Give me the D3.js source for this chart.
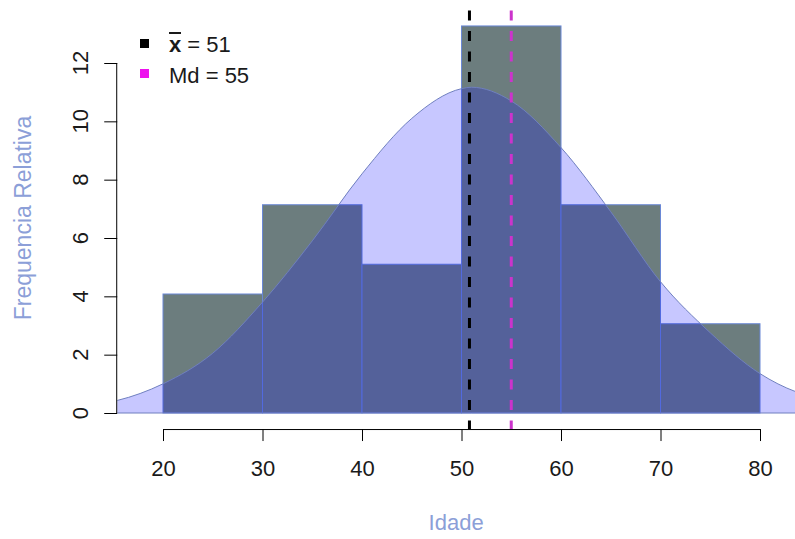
<!DOCTYPE html>
<html>
<head>
<meta charset="utf-8">
<script src="https://cdn.jsdelivr.net/npm/d3@7"></script>
<style>
  body { margin: 0; background: #fff; }
  svg { display: block; font-family: "Liberation Sans", Arial, sans-serif; }
</style>
</head>
<body>
<div id="chart"></div>
<script>
// histogram data (relative frequency per class)
const binEdges = [20, 30, 40, 50, 60, 70, 80];
const relFreq = [4.08, 7.14, 5.10, 13.27, 7.14, 3.06];

// normal curve, points
const curveX = [14, 15.4, 20, 25, 30, 35, 40, 45, 50, 51, 55, 60, 65, 70, 75, 80, 83.6, 86];
const curveY = [0.33, 0.43, 1.0, 2.05, 3.8, 5.9, 8.2, 10.1, 11.12, 11.17, 10.7, 9.1, 6.9, 4.5, 2.75, 1.35, 0.73, 0.5];

const meanValue = 50.8;
const medianValue = 55;
const legendLabels = ["= 51", "Md = 55"];

const xTicks = [20, 30, 40, 50, 60, 70, 80];
const yTicks = [0, 2, 4, 6, 8, 10, 12];

const width = 795;
const height = 539;

const barFill = "#6c7d7e";
const curveFill = "rgba(0, 0, 255, 0.22)";
const labelColor = "#8c9fd8";

const svg = d3.select("#chart")
    .append("svg")
    .attr("width", width)
    .attr("height", height);

const xScale = d3.scaleLinear()
    .domain([20, 80])
    .range([163, 760]);

const yScale = d3.scaleLinear()
    .domain([0, 12])
    .range([413, 63]);

// plot region (R style, a bit wider than the data)
const plotLeft = xScale(15.4);
const plotTop = yScale(13.8);
const plotBottom = yScale(-0.55);

svg.append("defs")
    .append("clipPath")
    .attr("id", "plot-clip")
    .append("rect")
    .attr("x", plotLeft)
    .attr("y", plotTop)
    .attr("width", width - plotLeft)
    .attr("height", plotBottom - plotTop);

const plot = svg.append("g").attr("clip-path", "url(#plot-clip)");

// bars
const bins = relFreq.map((v, i) => ({ x0: binEdges[i], x1: binEdges[i + 1], v: v }));

plot.selectAll("rect.bar")
    .data(bins)
    .join("rect")
    .attr("class", "bar")
    .attr("x", d => xScale(d.x0))
    .attr("y", d => yScale(d.v))
    .attr("width", d => xScale(d.x1) - xScale(d.x0))
    .attr("height", d => yScale(0) - yScale(d.v))
    .attr("fill", barFill)
    .attr("stroke", "#6a88d6")
    .attr("stroke-width", 1);

// density curve on top, transparent blue
const curvePoints = curveX.map((x, i) => ({ x: x, y: curveY[i] }));

const areaGenerator = d3.area()
    .x(d => xScale(d.x))
    .y0(yScale(0))
    .y1(d => yScale(d.y))
    .curve(d3.curveMonotoneX);

plot.append("path")
    .attr("d", areaGenerator(curvePoints))
    .attr("fill", curveFill)
    .attr("stroke", "#6f7fbf")
    .attr("stroke-width", 1);

// mean and median lines
const vLines = [
    { v: meanValue, color: "#000000" },
    { v: medianValue, color: "#cc33cc" }
];

svg.selectAll("line.vline")
    .data(vLines)
    .join("line")
    .attr("class", "vline")
    .attr("x1", d => xScale(d.v))
    .attr("x2", d => xScale(d.v))
    .attr("y1", plotTop)
    .attr("y2", plotBottom)
    .attr("stroke", d => d.color)
    .attr("stroke-width", 3)
    .attr("stroke-dasharray", "10 10.5");

// axes
const bottomAxis = d3.axisBottom(xScale)
    .tickValues(xTicks)
    .tickSize(12)
    .tickPadding(19);

const xAxis = svg.append("g")
    .attr("transform", `translate(0, ${plotBottom})`)
    .call(bottomAxis);

xAxis.select(".domain").attr("d", `M${xScale(20)},0.5H${xScale(80)}`);
xAxis.selectAll("text")
    .attr("font-size", 22)
    .attr("font-family", "Liberation Sans, Arial, sans-serif")
    .attr("fill", "#1a1a1a");

const leftAxis = d3.axisLeft(yScale)
    .tickValues(yTicks)
    .tickSize(13)
    .tickFormat("");

const yAxis = svg.append("g")
    .attr("transform", `translate(${plotLeft}, 0)`)
    .call(leftAxis);

yAxis.select(".domain").attr("d", `M-0.5,${yScale(0)}V${yScale(12)}`);
yAxis.selectAll(".tick line").attr("stroke", "#000");
xAxis.selectAll(".tick line").attr("stroke", "#000");
xAxis.select(".domain").attr("stroke", "#000");
yAxis.select(".domain").attr("stroke", "#000");

// rotated y tick labels like R
svg.selectAll("text.ytick")
    .data(yTicks)
    .join("text")
    .attr("class", "ytick")
    .attr("transform", d => `translate(88, ${yScale(d)}) rotate(-90)`)
    .attr("text-anchor", "middle")
    .attr("font-size", 22)
    .attr("fill", "#1a1a1a")
    .text(d => d);

// axis titles
svg.append("text")
    .attr("transform", `translate(31, ${(yScale(0) + yScale(12)) / 2 - 20}) rotate(-90)`)
    .attr("text-anchor", "middle")
    .attr("font-size", 23)
    .attr("fill", labelColor)
    .text("Frequencia Relativa");

svg.append("text")
    .attr("x", (plotLeft + width) / 2)
    .attr("y", 530)
    .attr("text-anchor", "middle")
    .attr("font-size", 22)
    .attr("fill", labelColor)
    .text("Idade");

// legend
const legend = svg.append("g");

legend.selectAll("rect")
    .data(vLines)
    .join("rect")
    .attr("x", 140)
    .attr("y", (d, i) => 39 + i * 30)
    .attr("width", 9)
    .attr("height", 9)
    .attr("fill", (d, i) => i === 0 ? "#000" : "#ee11ee");

const meanLabel = legend.append("text")
    .attr("x", 169)
    .attr("y", 52)
    .attr("font-size", 22)
    .attr("fill", "#1a1a1a");

meanLabel.append("tspan")
    .attr("font-weight", "bold")
    .text("x");

meanLabel.append("tspan")
    .text(" " + legendLabels[0]);

legend.append("line")
    .attr("x1", 169)
    .attr("x2", 181)
    .attr("y1", 33)
    .attr("y2", 33)
    .attr("stroke", "#1a1a1a")
    .attr("stroke-width", 2);

legend.append("text")
    .attr("x", 169)
    .attr("y", 83)
    .attr("font-size", 22)
    .attr("fill", "#1a1a1a")
    .text(legendLabels[1]);
</script>
</body>
</html>
